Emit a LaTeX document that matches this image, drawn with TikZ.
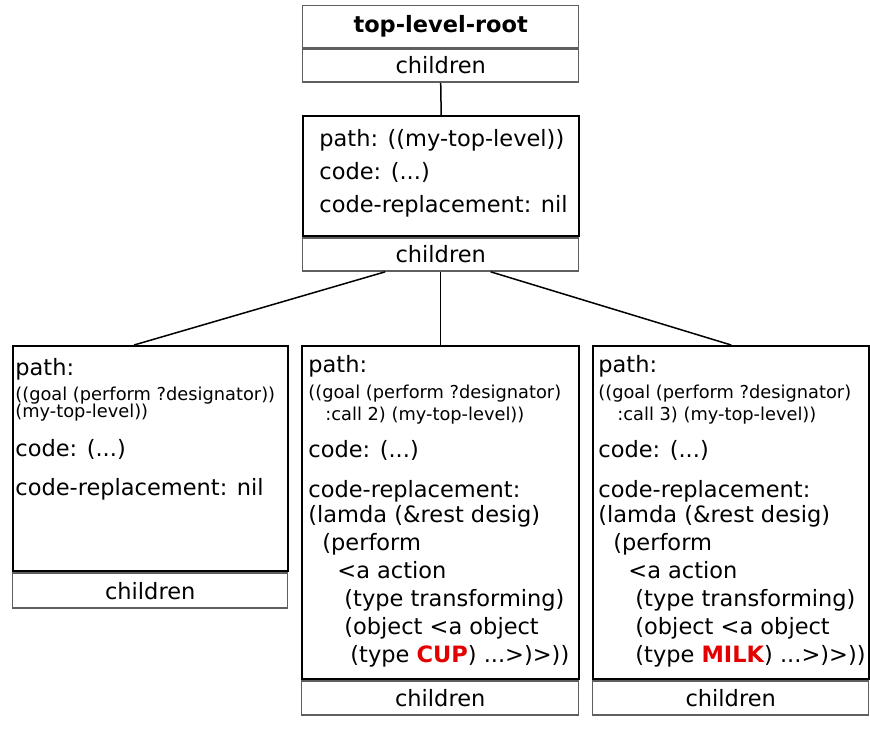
\documentclass[tikz,border=0pt]{standalone}
\usepackage{fontspec}
\setmainfont{DejaVu Sans}
\usetikzlibrary{calc, positioning}
\definecolor{framegray}{RGB}{95,95,95}
\definecolor{typered}{RGB}{228,0,0}
\tikzset{
    field/.style = {draw, line width=1.2pt, inner sep=0pt, anchor=north west, font=\fontsize{11.25}{13}\selectfont},% the upper part of a node
    kids/.style = {draw=framegray, line width=0.7pt, inner sep=0pt, anchor=north west, font=\fontsize{11.25}{13}\selectfont},% the children row
    txt/.style = {anchor=base west, inner sep=0pt, font=\fontsize{11.25}{13}\selectfont},
    tiny/.style = {anchor=base west, inner sep=0pt, font=\fontsize{8.9}{10}\selectfont},
    link/.style = {line width=0.75pt}
}

\begin{document}
\begin{tikzpicture}[x=0.5pt, y=-0.5pt]
        \useasboundingbox (0,0) rectangle (870,745);

        %boxes

        \node[kids, draw=framegray, minimum width=138pt, minimum height=21pt, font=\fontsize{11.25}{13}\selectfont\bfseries] (root) at (302,5) {top-level-root};
        \node[kids, minimum width=138pt, minimum height=16.5pt] (rootch) at (root.south west) {children};
        \node[field, minimum width=138pt, minimum height=60pt] (top) at (302,115) {};
        \node[kids, minimum width=138pt, minimum height=16.5pt] (topch) at (top.south west) {children};
        \node[field, minimum width=137.5pt, minimum height=112.5pt] (goalA) at (12,345) {};
        \node[kids, minimum width=137.5pt, minimum height=17.5pt] (goalAch) at (goalA.south west) {children};
        \node[field, minimum width=138.5pt, minimum height=166.5pt] (goalB) at (301,345) {};
        \node[kids, minimum width=138.5pt, minimum height=17pt] (goalBch) at (goalB.south west) {children};
        \node[field, minimum width=138pt, minimum height=166.5pt] (goalC) at (592,345) {};
        \node[kids, minimum width=138pt, minimum height=17pt] (goalCch) at (goalC.south west) {children};

        %texts

        \node[txt] (top1) at (319,146) {path: ((my-top-level))};
        \node[txt] (top2) at (319,179) {code: (...)};
        \node[txt] (top3) at (319,212) {code-replacement: nil};

        \node[txt] (a1) at (15,375) {path:};
        \node[tiny] (a2) at (15,400) {((goal (perform ?designator))};
        \node[tiny] (a3) at (15,417) {(my-top-level))};
        \node[txt] (a4) at (15,456) {code: (...)};
        \node[txt] (a5) at (15,495) {code-replacement: nil};

        \node[txt] (b1) at (308,372) {path:};
        \node[tiny] (b2) at (308,398) {((goal (perform ?designator)};
        \node[tiny] (b3) at (325,420) {:call 2) (my-top-level))};
        \node[txt] (b4) at (308,457) {code: (...)};
        \node[txt] (b5) at (308,497) {code-replacement:};
        \node[txt] (b6) at (308,522) {(lamda (\&rest desig)};
        \node[txt] (b7) at (322,550) {(perform};
        \node[txt] (b8) at (337,578) {<a action};
        \node[txt] (b9) at (344,606) {(type transforming)};
        \node[txt] (b10) at (344,634) {(object <a object};
        \node[txt] (b11) at (350,662) {(type \textcolor{typered}{\bfseries CUP}) ...>)>))};

        \node[txt] (c1) at (598,372) {path:};
        \node[tiny] (c2) at (598,398) {((goal (perform ?designator)};
        \node[tiny] (c3) at (617,420) {:call 3) (my-top-level))};
        \node[txt] (c4) at (598,457) {code: (...)};
        \node[txt] (c5) at (598,497) {code-replacement:};
        \node[txt] (c6) at (598,522) {(lamda (\&rest desig)};
        \node[txt] (c7) at (613,550) {(perform};
        \node[txt] (c8) at (628,578) {<a action};
        \node[txt] (c9) at (635,606) {(type transforming)};
        \node[txt] (c10) at (635,634) {(object <a object};
        \node[txt] (c11) at (635,662) {(type \textcolor{typered}{\bfseries MILK}) ...>)>))};

        %lines

        \draw[link] (rootch.south) -- (top.north);
        \draw[link] ($(topch.south west)!0.3!(topch.south east)$) -- ($(goalA.north west)!0.44!(goalA.north east)$);
        \draw[link] (topch.south) -- (goalB.north);
        \draw[link] ($(topch.south west)!0.68!(topch.south east)$) -- (goalC.north);
    \end{tikzpicture}
\end{document}
